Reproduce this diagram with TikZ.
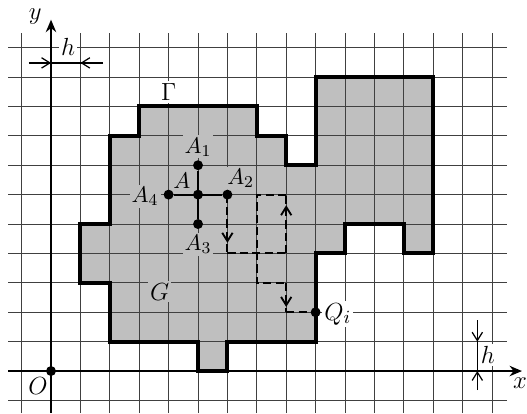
\documentclass[tikz,border=0pt]{standalone}
\usetikzlibrary{arrows.meta,decorations.markings}
\begin{document}
\begin{tikzpicture}[x=0.5cm,y=0.5cm,
  gridl/.style={black!75,line width=0.45pt},
  border/.style={line width=1.9pt,line join=miter},
  axis/.style={line width=1.2pt,-{Stealth[length=6pt,width=5pt]}},
  dimline/.style={line width=0.6pt},
  dimarr/.style={line width=0.6pt,-{Straight Barb[length=4pt,width=5pt]}},
  dpath/.style={line width=0.9pt,dash pattern=on 4pt off 2pt},
  marr/.style={postaction={decorate},decoration={markings,
     mark=at position 0.82 with {\arrow{Straight Barb[length=4pt,width=5pt,line width=0.9pt]}}}},
  pt/.style={circle,fill=black,inner sep=0pt,minimum size=4.8pt},
  big/.style={font=\fontsize{12.5}{14}\selectfont,inner sep=1pt},
  sml/.style={font=\fontsize{11}{13}\selectfont,inner sep=1pt},
  gbg/.style={fill=black!25},
  wbg/.style={fill=white}]
\useasboundingbox (-1.735,-1.43) rectangle (16.19,12.62);
% region fill
\fill[black!25] (3,9) -- (7,9) -- (7,8) -- (8,8) -- (8,7) -- (9,7) -- (9,10) -- (13,10)
  -- (13,4) -- (12,4) -- (12,5) -- (10,5) -- (10,4) -- (9,4) -- (9,1) -- (6,1) -- (6,0)
  -- (5,0) -- (5,1) -- (2,1) -- (2,3) -- (1,3) -- (1,5) -- (2,5) -- (2,8) -- (3,8) -- cycle;
% grid
\foreach \j in {-1,...,11} \draw[gridl] (-1.46,\j) -- (15.5,\j);
\foreach \i in {-1,...,15} \draw[gridl] (\i,-1.43) -- (\i,11.5);
% labels with backgrounds
\node[big,wbg] (lh1) at (0.58,11.02) {$h$};
\node[big,wbg] (lh2) at (14.86,0.54) {$h$};
\node[big,wbg] (lGamma) at (4.0,9.49) {$\Gamma$};
\node[big,gbg] (lG) at (3.7,2.69) {$G$};
\node[sml,gbg] (lA1) at (5.0,7.62) {$A_1$};
\node[sml,gbg] (lA) at (4.45,6.46) {$A$};
\node[sml,gbg] (lA2) at (6.45,6.56) {$A_2$};
\node[sml,gbg] (lA4) at (3.2,5.95) {$A_4$};
\node[sml,gbg] (lA3) at (5.0,4.32) {$A_3$};
\node[big,wbg] (lQ) at (9.75,1.94) {$Q_i$};
% region border
\draw[border] (3,9) -- (7,9) -- (7,8) -- (8,8) -- (8,7) -- (9,7) -- (9,10) -- (13,10)
  -- (13,4) -- (12,4) -- (12,5) -- (10,5) -- (10,4) -- (9,4) -- (9,1) -- (6,1) -- (6,0)
  -- (5,0) -- (5,1) -- (2,1) -- (2,3) -- (1,3) -- (1,5) -- (2,5) -- (2,8) -- (3,8) -- cycle;
% axes
\coordinate (xs) at (-1.46,0);
\coordinate (xe) at (16.02,0);
\coordinate (ys) at (0,-1.43);
\coordinate (ye) at (0,11.95);
\draw[axis] (xs) -- (xe);
\draw[axis] (ys) -- (ye);
\node[big] (lx) at (15.95,-0.42) {$x$};
\node[big] (ly) at (-0.54,12.04) {$y$};
\node[big] (lO) at (-0.44,-0.5) {$O$};
\node[pt] (O) at (0,0) {};
% dimension h (top)
\coordinate (d1a) at (-0.75,10.48);
\coordinate (d1b) at (0,10.48);
\coordinate (d1c) at (1,10.48);
\coordinate (d1d) at (1.77,10.48);
\draw[dimline] (d1a) -- (d1d);
\draw[dimarr] (d1a) -- (d1b);
\draw[dimarr] (d1d) -- (d1c);
% dimension h (right)
\coordinate (d2a) at (14.5,1.73);
\coordinate (d2b) at (14.5,1);
\coordinate (d2c) at (14.5,0);
\coordinate (d2d) at (14.5,-0.65);
\draw[dimline] (d2a) -- (d2d);
\draw[dimarr] (d2a) -- (d2b);
\draw[dimarr] (d2d) -- (d2c);
% points
\node[pt] (A) at (5,6) {};
\node[pt] (A1) at (5,7) {};
\node[pt] (A2) at (6,6) {};
\node[pt] (A3) at (5,5) {};
\node[pt] (A4) at (4,6) {};
\node[pt] (Q) at (9,2) {};
\draw[line width=1pt] (A4) -- (A2);
\draw[line width=1pt] (A1) -- (A3);
% walk
\coordinate (w1) at (6,4);
\coordinate (w2) at (8,4);
\coordinate (w3) at (8,6);
\coordinate (w4) at (7,6);
\coordinate (w5) at (7,3);
\coordinate (w6) at (8,3);
\coordinate (w7) at (8,2);
\draw[dpath,marr] (A2.center) -- (w1);
\draw[dpath] (w1) -- (w2);
\draw[dpath,marr] (w2) -- (w3);
\draw[dpath] (w3) -- (w4) -- (w5) -- (w6);
\draw[dpath,marr] (w6) -- (w7);
\draw[dpath] (w7) -- (Q);
\end{tikzpicture}
\end{document}
